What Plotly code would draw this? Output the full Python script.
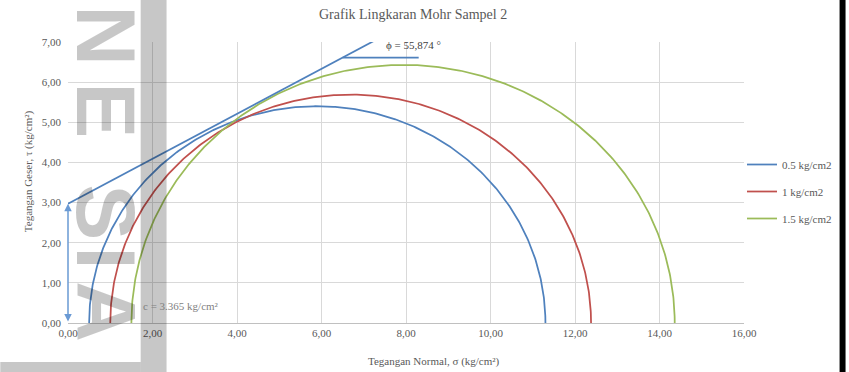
import numpy as np
import plotly.graph_objects as go

W, H = 849, 372
ML, MR, MT, MB = 68, 102, 42, 49

# Confining stresses (sigma3) and major principal stresses (sigma1), kg/cm2
series_names = ["0.5 kg/cm2", "1 kg/cm2", "1.5 kg/cm2"]
sigma3 = [0.5, 1.0, 1.5]
sigma1 = [11.3, 12.38, 14.36]
colors = ["#4F81BD", "#C0504D", "#9BBB59"]

# Failure envelope and angle reference line
envelope_sigma = [0.0, 7.3]
envelope_tau = [2.97, 7.06]
phi_ref_sigma = [6.5, 8.3]
phi_ref_tau = [6.61, 6.61]
cohesion_tau = 2.97

x_ticks = [0, 2, 4, 6, 8, 10, 12, 14, 16]
y_ticks = [0, 1, 2, 3, 4, 5, 6, 7]


def fmt(v):
    return f"{v:.2f}".replace(".", ",")


def px(x):
    return (x - ML) / (W - ML - MR)


def py(y):
    return (H - MB - y) / (H - MT - MB)


fig = go.Figure()

theta = np.linspace(np.pi, 0, 361)
for name, s3, s1, c in zip(series_names, sigma3, sigma1, colors):
    center = (s1 + s3) / 2
    radius = (s1 - s3) / 2
    fig.add_trace(go.Scatter(
        x=center + radius * np.cos(theta),
        y=radius * np.sin(theta),
        mode="lines", name=name, legendgroup=name,
        line=dict(color=c, width=1.75),
        hoverinfo="skip",
    ))

fig.add_trace(go.Scatter(x=envelope_sigma, y=envelope_tau, mode="lines",
                         line=dict(color="#4F81BD", width=1.75),
                         showlegend=False, hoverinfo="skip"))
fig.add_trace(go.Scatter(x=phi_ref_sigma, y=phi_ref_tau, mode="lines",
                         line=dict(color="#4F81BD", width=1.75),
                         showlegend=False, hoverinfo="skip"))

serif = "Liberation Serif, Times New Roman, serif"


def note(x, y, text, size=11, color="#595959", angle=0):
    return dict(x=px(x), y=py(y), xref="paper", yref="paper", text=text,
                xanchor="center", yanchor="middle", textangle=angle, showarrow=False,
                font=dict(family=serif, size=size, color=color))


annotations = [
    dict(x=8.18, y=6.93, xref="x", yref="y", text="ϕ = 55,874 °", showarrow=False,
         xanchor="center", yanchor="middle",
         font=dict(family=serif, size=11, color="#404040")),
    note(182, 306, "c = 3.365 kg/cm²", color="#7f7f7f"),
    dict(x=0, y=cohesion_tau, ax=0, ay=0, xref="x", yref="y", axref="x", ayref="y",
         text="", showarrow=True, arrowside="end+start", arrowhead=2, arrowsize=1,
         arrowwidth=1.5, arrowcolor="#6A9AD4"),
    note(415, 15, "Grafik Lingkaran Mohr Sampel 2", size=14),
    note(436, 361, "Tegangan Normal, σ (kg/cm²)"),
    note(28, 171, "Tegangan Geser, τ (kg/cm²)", angle=-90),
]

# Background watermark lettering
wm_color = "rgba(0,0,0,0.22)"
for letter, cy in zip(["N", "E", "S", "I", "A"], [36, 110, 212, 258, 312]):
    annotations.append(dict(x=px(106), y=py(cy), xref="paper", yref="paper", text=letter,
                            xanchor="center", yanchor="middle",
                            textangle=90, showarrow=False,
                            font=dict(family="Liberation Sans", size=84, color=wm_color,
                                      weight="bold")))

shapes = [
    dict(type="rect", xref="paper", yref="paper", x0=px(141), x1=px(167), y0=py(0), y1=py(372),
         fillcolor=wm_color, line=dict(width=0), layer="above"),
    dict(type="rect", xref="paper", yref="paper", x0=px(0), x1=px(141), y0=py(362), y1=py(372),
         fillcolor=wm_color, line=dict(width=0), layer="above"),
    dict(type="rect", xref="paper", yref="paper", x0=px(843), x1=px(849), y0=py(0), y1=py(372),
         fillcolor="black", line=dict(width=0), layer="above"),
]

fig.update_layout(
    width=W, height=H,
    margin=dict(l=ML, r=MR, t=MT, b=MB),
    paper_bgcolor="white", plot_bgcolor="white",
    showlegend=True,
    legend=dict(x=px(745), y=py(150), xanchor="left", yanchor="top",
                font=dict(family=serif, size=11, color="#595959"),
                tracegroupgap=8, itemwidth=30, bgcolor="rgba(0,0,0,0)"),
    annotations=annotations,
    shapes=shapes,
)
fig.update_xaxes(range=[0, 16], tickvals=x_ticks, ticktext=[fmt(v) for v in x_ticks],
                 showgrid=True, gridcolor="#d9d9d9", gridwidth=1, zeroline=False,
                 showline=True, linecolor="#c0c0c0", linewidth=1,
                 tickfont=dict(family=serif, size=11, color="#595959"))
fig.update_yaxes(range=[0, 7], tickvals=y_ticks, ticktext=[fmt(v) for v in y_ticks],
                 showgrid=True, gridcolor="#d9d9d9", gridwidth=1, zeroline=False,
                 showline=False, ticklabelstandoff=6,
                 tickfont=dict(family=serif, size=11, color="#595959"))

fig.write_html("out.html")
